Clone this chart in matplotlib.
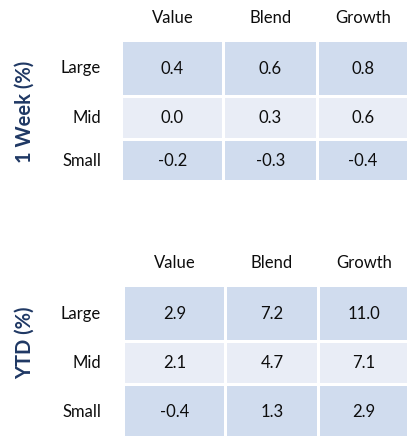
import matplotlib
matplotlib.use("Agg")
import matplotlib.pyplot as plt
from matplotlib.patches import Rectangle

styles = ["Value", "Blend", "Growth"]
sizes = ["Large", "Mid", "Small"]
week_vals = [[0.4, 0.6, 0.8],
             [0.0, 0.3, 0.6],
             [-0.2, -0.3, -0.4]]
ytd_vals = [[2.9, 7.2, 11.0],
            [2.1, 4.7, 7.1],
            [-0.4, 1.3, 2.9]]
titles = ["1 Week (%)", "YTD (%)"]

dark = "#D0DCEE"
light = "#E9EDF6"
navy = "#1F3864"
row_colors = [dark, light, dark]

plt.rcParams['font.family'] = ['Lato', 'DejaVu Sans']

W, H = 407, 436
fig = plt.figure(figsize=(W / 100, H / 100), dpi=100)
ax = fig.add_axes([0, 0, 1, 1])
ax.set_xlim(0, W)
ax.set_ylim(H, 0)
ax.axis('off')

# layout in pixels: (col edges, row edges, header y, title y)
layouts = [
    dict(cols=[(123, 222), (225, 316), (319, 407)],
         rows=[(42, 95), (98, 138), (141, 180)], head=18, title=112),
    dict(cols=[(125, 224), (227, 317), (320, 408)],
         rows=[(287, 340), (343, 383), (386, 437)], head=263, title=343),
]

fs = 12
for vals, title, lay in zip([week_vals, ytd_vals], titles, layouts):
    cols, rows = lay['cols'], lay['rows']
    for j, name in enumerate(styles):
        cx = (cols[j][0] + cols[j][1]) / 2
        ax.text(cx, lay['head'], name, ha='center', va='center', fontsize=fs, color='#0d0d0d')
    for i, size in enumerate(sizes):
        y0, y1 = rows[i]
        cy = (y0 + y1) / 2
        ax.text(101, cy, size, ha='right', va='center', fontsize=fs, color='#0d0d0d')
        for j in range(len(styles)):
            x0, x1 = cols[j]
            ax.add_patch(Rectangle((x0, y0), x1 - x0, y1 - y0, facecolor=row_colors[i], edgecolor='none'))
            ax.text((x0 + x1) / 2, cy, f"{vals[i][j]:.1f}", ha='center', va='center',
                    fontsize=fs, color='#0d0d0d')
    ax.text(25, lay['title'], title, rotation=90, ha='center', va='center',
            fontsize=14.5, fontweight='bold', color=navy)

fig.savefig("out.png", dpi=100, facecolor='white')
